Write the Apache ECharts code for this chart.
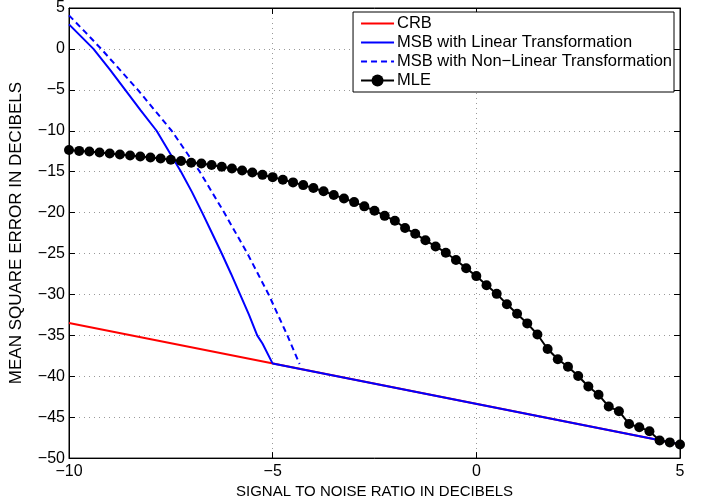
<!DOCTYPE html>
<html>
<head>
<meta charset="utf-8">
<script src="https://cdn.jsdelivr.net/npm/echarts@6/dist/echarts.min.js"></script>
<style>html,body{margin:0;padding:0;background:#fff}#c{width:709px;height:504px}</style>
</head>
<body>
<div id="c"></div>
<script>
// ---- data ----
const seriesNames = ["CRB", "MSB with Linear Transformation", "MSB with Non\u2212Linear Transformation", "MLE"];
const crbX = [-10, 5];
const crbY = [-33.5, -48.3];
const msbLinX = [-10, -9.7, -9.4, -9.0, -8.62, -8.24, -7.85, -7.55, -7.25, -6.98, -6.73, -6.49, -6.25, -6.02, -5.8, -5.58, -5.38, -5.25, -5.0, 5];
const msbLinY = [3.0, 1.5, 0, -2.5, -5, -7.5, -10, -12.5, -15, -17.5, -20, -22.5, -25, -27.5, -30, -32.5, -35, -36.0, -38.45, -48.3];
const msbNonX = [-10, -9.6, -9.21, -8.31, -7.48, -6.79, -6.19, -5.62, -5.1, -4.64, -4.34];
const msbNonY = [4.1, 2.05, 0, -5, -10, -15, -20, -25, -30, -35, -38.5];
const mleX = [-10, -9.75, -9.5, -9.25, -9, -8.75, -8.5, -8.25, -8, -7.75, -7.5, -7.25, -7, -6.75, -6.5, -6.25, -6, -5.75, -5.5, -5.25, -5,
  -4.75, -4.5, -4.25, -4, -3.75, -3.5, -3.25, -3, -2.75, -2.5, -2.25, -2, -1.75, -1.5, -1.25, -1, -0.75, -0.5, -0.25, 0,
  0.25, 0.5, 0.75, 1, 1.25, 1.5, 1.75, 2, 2.25, 2.5, 2.75, 3, 3.25, 3.5, 3.75, 4, 4.25, 4.5, 4.75, 5];
const mleY = [-12.35, -12.46, -12.54, -12.66, -12.78, -12.9, -13.02, -13.14, -13.26, -13.38, -13.54, -13.7, -13.9, -14.0, -14.18, -14.4, -14.62, -14.85, -15.11, -15.39, -15.67,
  -15.99, -16.31, -16.64, -17.0, -17.4, -17.84, -18.28, -18.72, -19.24, -19.77, -20.4, -21.0, -21.89, -22.58, -23.39, -24.14, -24.9, -25.8, -26.8, -27.76,
  -28.88, -29.93, -31.2, -32.37, -33.54, -34.9, -36.67, -37.92, -38.84, -39.96, -41.25, -42.25, -43.7, -44.27, -45.83, -46.23, -46.71, -47.84, -48.08, -48.33];
const xTitle = "SIGNAL TO NOISE RATIO IN DECIBELS";
const yTitle = "MEAN SQUARE ERROR IN DECIBELS";

const zip = (xs, ys) => xs.map((x, i) => [x, ys[i]]);
const FONT = '"Liberation Sans", Arial, Helvetica, sans-serif';
const minusFmt = v => String(v).replace('-', '\u2212');

const chart = echarts.init(document.getElementById('c'), null, {renderer: 'canvas'});
const axisCommon = {
  axisLine: {onZero: false, lineStyle: {color: '#000', width: 1}},
  axisTick: {inside: true, length: 6, lineStyle: {color: '#000'}},
};
const noSym = {color: 'rgba(0,0,0,0)', borderWidth: 0};
chart.setOption({
  animation: false,
  backgroundColor: '#fff',
  textStyle: {fontFamily: FONT},
  grid: {left: 67, right: 29, top: 5, bottom: 43, show: true, borderColor: '#000', borderWidth: 1},
  legend: {
    right: 35, top: 12, orient: 'vertical',
    data: [
      {name: seriesNames[0], itemStyle: noSym},
      {name: seriesNames[1], itemStyle: noSym},
      {name: seriesNames[2], itemStyle: noSym},
      {name: seriesNames[3]}
    ],
    backgroundColor: '#fff', borderColor: '#000', borderWidth: 1,
    padding: [3, 2, 3, 7], itemGap: 2, itemWidth: 33, itemHeight: 15,
    textStyle: {fontFamily: FONT, fontSize: 16.5, color: '#000', padding: [0, 0, 0, -2]},
  },
  xAxis: [{
    type: 'value', min: -10, max: 5, interval: 5, ...axisCommon,
    axisLabel: {fontSize: 16, color: '#000', formatter: minusFmt, margin: 5},
    splitLine: {show: true, lineStyle: {type: [1, 4], color: '#999'}},
    name: xTitle, nameLocation: 'middle', nameGap: 24,
    nameTextStyle: {fontSize: 15, color: '#000'},
  }, {
    type: 'value', min: -10, max: 5, interval: 5, position: 'top', ...axisCommon,
    axisLabel: {show: false}, splitLine: {show: false},
  }],
  yAxis: [{
    type: 'value', min: -50, max: 5, interval: 5, ...axisCommon,
    axisLabel: {fontSize: 16, color: '#000', formatter: minusFmt, margin: 4},
    splitLine: {show: true, lineStyle: {type: [1, 4], color: '#999'}},
    name: yTitle, nameLocation: 'middle', nameGap: 44,
    nameTextStyle: {fontSize: 17, color: '#000'},
  }, {
    type: 'value', min: -50, max: 5, interval: 5, position: 'right', ...axisCommon,
    axisLabel: {show: false}, splitLine: {show: false},
  }],
  series: [
    {name: seriesNames[0], type: 'line', data: zip(crbX, crbY), symbol: 'none',
     lineStyle: {color: '#ff0000', width: 2}, itemStyle: {color: '#ff0000'}},
    {name: seriesNames[1], type: 'line', data: zip(msbLinX, msbLinY), symbol: 'none',
     lineStyle: {color: '#0000ff', width: 2}, itemStyle: {color: '#0000ff'}},
    {name: seriesNames[2], type: 'line', data: zip(msbNonX, msbNonY), symbol: 'none',
     lineStyle: {color: '#0000ff', width: 2, type: [6, 4]}, itemStyle: {color: '#0000ff'}},
    {name: seriesNames[3], type: 'line', data: zip(mleX, mleY), symbol: 'circle', symbolSize: 10,
     lineStyle: {color: '#000', width: 2}, itemStyle: {color: '#000'}},
  ]
});
</script>
</body>
</html>
